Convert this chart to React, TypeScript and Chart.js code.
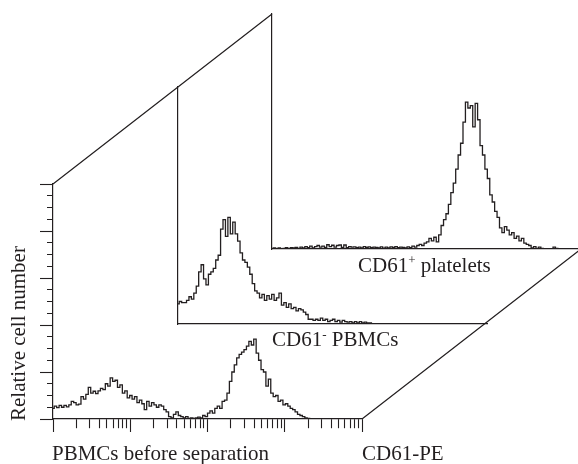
import React, { useEffect, useRef } from 'react';
import { Chart, registerables } from 'chart.js';

Chart.register(...registerables);

// ---- data (relative cell number per fluorescence channel, 128 channels over 4 decades) ----
const frontCounts = [
  4.5, 5.5, 4.8, 5.8, 5, 5.8, 5.2, 6, 7.5, 7, 6, 6.3, 9.5, 8.5, 10.5, 13.5,
  11, 11.8, 10.8, 12, 13, 12.5, 15, 14, 17.5, 16, 16.5, 13.5, 14.5, 11, 12, 9,
  10, 8.5, 9.5, 7, 8, 6.5, 4, 7.5, 5.5, 7, 6, 5, 6, 5.5, 4, 3,
  1, 0.5, 2, 3, 1.5, 1, 0.5, 1, 0.3, 0.5, 0.3, 0.5, 0.8, 0.5, 1.5, 1,
  2.5, 3.5, 2.5, 4.5, 5.5, 4.5, 7.5, 8, 11, 16, 20, 23, 26, 27.5, 28.5, 29.5,
  31, 33, 31.5, 34, 28, 25, 21, 20, 14, 17, 11, 9.5, 10, 7.5, 8, 6,
  6.5, 5.5, 4.5, 4, 3, 2, 1.5, 1, 0.5, 0.3, 0, 0, 0, 0, 0, 0,
  0, 0, 0, 0, 0, 0, 0, 0, 0, 0, 0, 0, 0, 0, 0, 0,
];

const middleCounts = [
  8.5, 9.5, 9, 9, 10, 11.5, 10.5, 13, 16, 22, 25, 19, 16.5, 21, 22, 23.5,
  27, 29, 40, 44, 37, 45, 38, 43, 38, 35, 30, 27, 26, 24, 21, 17,
  14, 13, 11, 12.5, 10, 12, 10.5, 12.5, 10, 11, 13, 8, 9, 7, 8.5, 6.5,
  7, 5.5, 6.5, 6, 5, 4, 2, 2, 1.5, 2, 1.5, 2.5, 1.5, 2, 1, 1.5,
  2, 1, 1.5, 0.8, 1.5, 1, 0.8, 1, 0.5, 1, 0.5, 1, 0.5, 0.8, 0.5, 0.5,
  0, 0, 0, 0, 0, 0, 0, 0, 0, 0, 0, 0, 0, 0, 0, 0,
  0, 0, 0, 0, 0, 0, 0, 0, 0, 0, 0, 0, 0, 0, 0, 0,
  0, 0, 0, 0, 0, 0, 0, 0, 0, 0, 0, 0, 0, 0, 0, 0,
];

const backCounts = [
  0, 0.5, 0, 0.5, 0, 0.3, 0.6, 0.2, 0.6, 0.5, 0.7, 0.3, 0.8, 0.5, 1, 0.6,
  1.2, 0.5, 1, 1.5, 0.8, 1.2, 0.7, 1.8, 1, 1.6, 0.8, 1.5, 1.7, 0.7, 1.7, 0.6,
  1, 0.8, 0.9, 0.6, 0.8, 0.5, 1, 0.7, 0.9, 0.6, 0.8, 0.7, 0.5, 0.9, 0.4, 0.8,
  0.5, 0.9, 0.7, 1, 0.6, 0.8, 0.7, 0.5, 0.9, 0.6, 1.2, 0.8, 1.5, 2, 1.5, 2.5,
  3, 4.5, 3.5, 5, 3, 6, 10, 12.5, 15, 19, 24, 28, 34, 40, 45, 54,
  62.5, 60, 61, 52, 62, 55, 44, 40, 34, 30, 23, 20, 16, 13.5, 9, 7,
  9.5, 8, 6, 7, 4.5, 5.5, 3.5, 4.5, 2.5, 2, 1.5, 0.5, 1, 0.3, 0.8, 0.3,
  0, 0, 0, 0, 0.8, 0.3, 0, 0, 0, 0, 0, 0, 0, 0, 0, 0,
];

const xTickValues = [
  1, 2, 3, 4, 5, 6, 7, 8, 9,
  10, 20, 30, 40, 50, 60, 70, 80, 90,
  100, 200, 300, 400, 500, 600, 700, 800, 900,
  1000, 2000, 3000, 4000, 5000, 6000, 7000, 8000, 9000,
  10000,
];
const yMax = 100;
const yTickStep = 5;
const yMajorStep = 20;

const channels = frontCounts.map((_, i) => i);

// ---- layout ----
const INK = '#231f20';
const CW = 600;
const CH = 464;
const TICK = 13;
type Panel = { left: number; top: number; right: number; bottom: number };
const FRONT: Panel = { left: 53, top: 184, right: 362, bottom: 419 };
const MIDDLE: Panel = { left: 178, top: 87, right: 487, bottom: 324 };
const BACK: Panel = { left: 272, top: 14, right: 581, bottom: 249 };

const isDecade = (v: number) => Math.abs(Math.log10(v) - Math.round(Math.log10(v))) < 1e-9;

const perspectivePlugin = {
  id: 'perspective',
  afterDraw(chart: any) {
    const { ctx, chartArea } = chart;
    ctx.save();
    ctx.strokeStyle = INK;
    ctx.lineWidth = 1.2;
    ctx.beginPath();
    ctx.moveTo(chartArea.left, chartArea.top);
    ctx.lineTo(BACK.left, BACK.top);
    ctx.moveTo(chartArea.right, chartArea.bottom);
    ctx.lineTo(BACK.right, BACK.bottom);
    ctx.stroke();
    ctx.restore();
  },
};

function panelConfig(counts: number[], panel: Panel, front: boolean): any {
  const tick = front ? TICK : 0;
  const scales: any = {
    x: {
      type: 'category',
      display: !front,
      grid: { display: false, drawTicks: false },
      border: { display: true, color: INK, width: 1.2 },
      ticks: { display: false },
    },
    y: {
      type: 'linear',
      min: 0,
      max: yMax,
      grid: front
        ? {
            display: true,
            drawOnChartArea: false,
            drawTicks: true,
            tickLength: TICK,
            tickColor: INK,
            tickWidth: 1.1,
            tickBorderDash: (c: any) =>
              c.tick && c.tick.value % yMajorStep === 0 ? [] : [0, 7, 6, 100],
          }
        : { display: false, drawTicks: false },
      border: { display: true, color: INK, width: 1.2 },
      ticks: { display: false, stepSize: yTickStep },
    },
  };
  if (front) {
    scales.xl = {
      type: 'logarithmic',
      position: 'bottom',
      min: xTickValues[0],
      max: xTickValues[xTickValues.length - 1],
      afterBuildTicks: (s: any) => {
        s.ticks = xTickValues.map((v) => ({ value: v, major: isDecade(v) }));
      },
      grid: {
        display: true,
        drawOnChartArea: false,
        drawTicks: true,
        tickLength: TICK,
        tickColor: INK,
        tickWidth: 1.1,
        tickBorderDash: (c: any) => (c.tick && isDecade(c.tick.value) ? [] : [9, 100]),
      },
      border: { display: true, color: INK, width: 1.2 },
      ticks: { display: false, autoSkip: false },
    };
  }
  return {
    type: 'line',
    data: {
      labels: channels,
      datasets: [
        {
          data: counts,
          borderColor: INK,
          borderWidth: 1.3,
          pointRadius: 0,
          tension: 0,
          stepped: 'middle',
          fill: false,
          xAxisID: 'x',
          yAxisID: 'y',
        },
      ],
    },
    options: {
      responsive: false,
      animation: false,
      events: [],
      layout: {
        padding: {
          left: panel.left - tick,
          top: panel.top,
          right: CW - panel.right,
          bottom: CH - panel.bottom - tick,
        },
      },
      plugins: { legend: { display: false }, tooltip: { enabled: false }, title: { display: false } },
      scales,
    },
    plugins: front ? [perspectivePlugin] : [],
  };
}

const textBase: React.CSSProperties = {
  position: 'absolute',
  fontFamily: "'Liberation Serif', 'Times New Roman', serif",
  fontSize: 21,
  lineHeight: '21px',
  color: INK,
  whiteSpace: 'nowrap',
};
const supStyle: React.CSSProperties = {
  fontSize: '0.62em',
  position: 'relative',
  top: '-0.55em',
};

export default function App() {
  const backRef = useRef<HTMLCanvasElement>(null);
  const midRef = useRef<HTMLCanvasElement>(null);
  const frontRef = useRef<HTMLCanvasElement>(null);

  useEffect(() => {
    const charts = [
      new Chart(backRef.current as HTMLCanvasElement, panelConfig(backCounts, BACK, false)),
      new Chart(midRef.current as HTMLCanvasElement, panelConfig(middleCounts, MIDDLE, false)),
      new Chart(frontRef.current as HTMLCanvasElement, panelConfig(frontCounts, FRONT, true)),
    ];
    return () => charts.forEach((c) => c.destroy());
  }, []);

  const canvasStyle: React.CSSProperties = { position: 'absolute', left: 0, top: 0 };

  return (
    <div
      style={{
        position: 'fixed',
        left: 0,
        top: 0,
        width: 578,
        height: 464,
        overflow: 'hidden',
        background: '#fff',
      }}
    >
      <canvas ref={backRef} width={CW} height={CH} style={canvasStyle} />
      <canvas ref={midRef} width={CW} height={CH} style={canvasStyle} />
      <canvas ref={frontRef} width={CW} height={CH} style={canvasStyle} />

      <div style={{ ...textBase, left: 358, top: 254.5 }}>
        CD61<span style={supStyle}>+</span> platelets
      </div>
      <div style={{ ...textBase, left: 272, top: 328.5 }}>
        CD61<span style={supStyle}>-</span> PBMCs
      </div>
      <div style={{ ...textBase, left: 52, top: 442.5 }}>PBMCs before separation</div>
      <div style={{ ...textBase, left: 362, top: 442.5 }}>CD61-PE</div>
      <div
        style={{
          ...textBase,
          left: 7.5,
          top: 421,
          transformOrigin: '0 0',
          transform: 'rotate(-90deg)',
        }}
      >
        Relative cell number
      </div>
    </div>
  );
}
